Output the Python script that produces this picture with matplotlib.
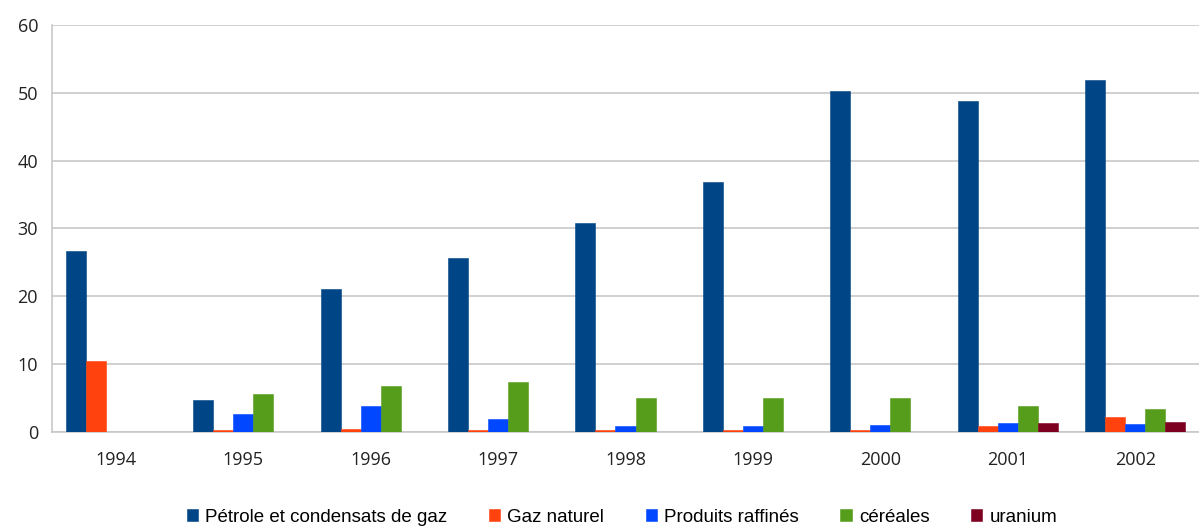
import numpy as np
import matplotlib.pyplot as plt

# data
years = ["1994", "1995", "1996", "1997", "1998", "1999", "2000", "2001", "2002"]
petrole = [26.7, 4.7, 21.1, 25.7, 30.8, 36.9, 50.3, 48.8, 51.9]
gaz = [10.5, 0.3, 0.5, 0.3, 0.3, 0.3, 0.3, 0.9, 2.2]
produits = [0, 2.65, 3.8, 1.9, 0.9, 0.9, 1.1, 1.3, 1.2]
cereales = [0, 5.6, 6.8, 7.4, 5.0, 5.0, 5.0, 3.8, 3.4]
uranium = [0, 0, 0, 0, 0, 0, 0, 1.3, 1.5]

series = [petrole, gaz, produits, cereales, uranium]
names = ["Pétrole et condensats de gaz", "Gaz naturel", "Produits raffinés",
         "céréales", "uranium"]
colors = ["#004586", "#ff420e", "#0047ff", "#579d1c", "#7e0021"]

plt.rcParams['font.family'] = ['Open Sans', 'DejaVu Sans']

fig = plt.figure(figsize=(11.99, 5.27), dpi=100)
ax = fig.add_axes([52 / 1199, 1 - 432 / 527, 1147 / 1199, 407 / 527])

x = np.arange(len(years))
w = 0.157
for i, (vals, name, c) in enumerate(zip(series, names, colors)):
    ax.bar(x + (i - 2) * w, vals, width=w, color=c, label=name,
           edgecolor=c, linewidth=0.4, zorder=3)

ax.set_xlim(-0.5, len(years) - 0.5)
ax.set_ylim(0, 60)
ax.set_yticks(range(0, 61, 10))
ax.set_xticks(x)
ax.set_xticklabels(years)
ax.tick_params(axis='both', length=0, labelsize=13, colors="#222222")
ax.tick_params(axis='x', pad=14)
ax.tick_params(axis='y', pad=10)
ax.grid(axis='y', color="#c8c8c8", linewidth=1.2, zorder=0)
for s in ["top", "right"]:
    ax.spines[s].set_visible(False)
for s in ["left", "bottom"]:
    ax.spines[s].set_color("#c8c8c8")
    ax.spines[s].set_linewidth(1.2)

leg = ax.legend(loc="lower center", bbox_to_anchor=(0.497, -0.272), ncol=5,
                frameon=False, handlelength=0.6, handleheight=0.6,
                handletextpad=0.4, columnspacing=2.2,
                prop={'family': 'Liberation Sans', 'size': 13.5})

plt.savefig("out.png", dpi=100)
